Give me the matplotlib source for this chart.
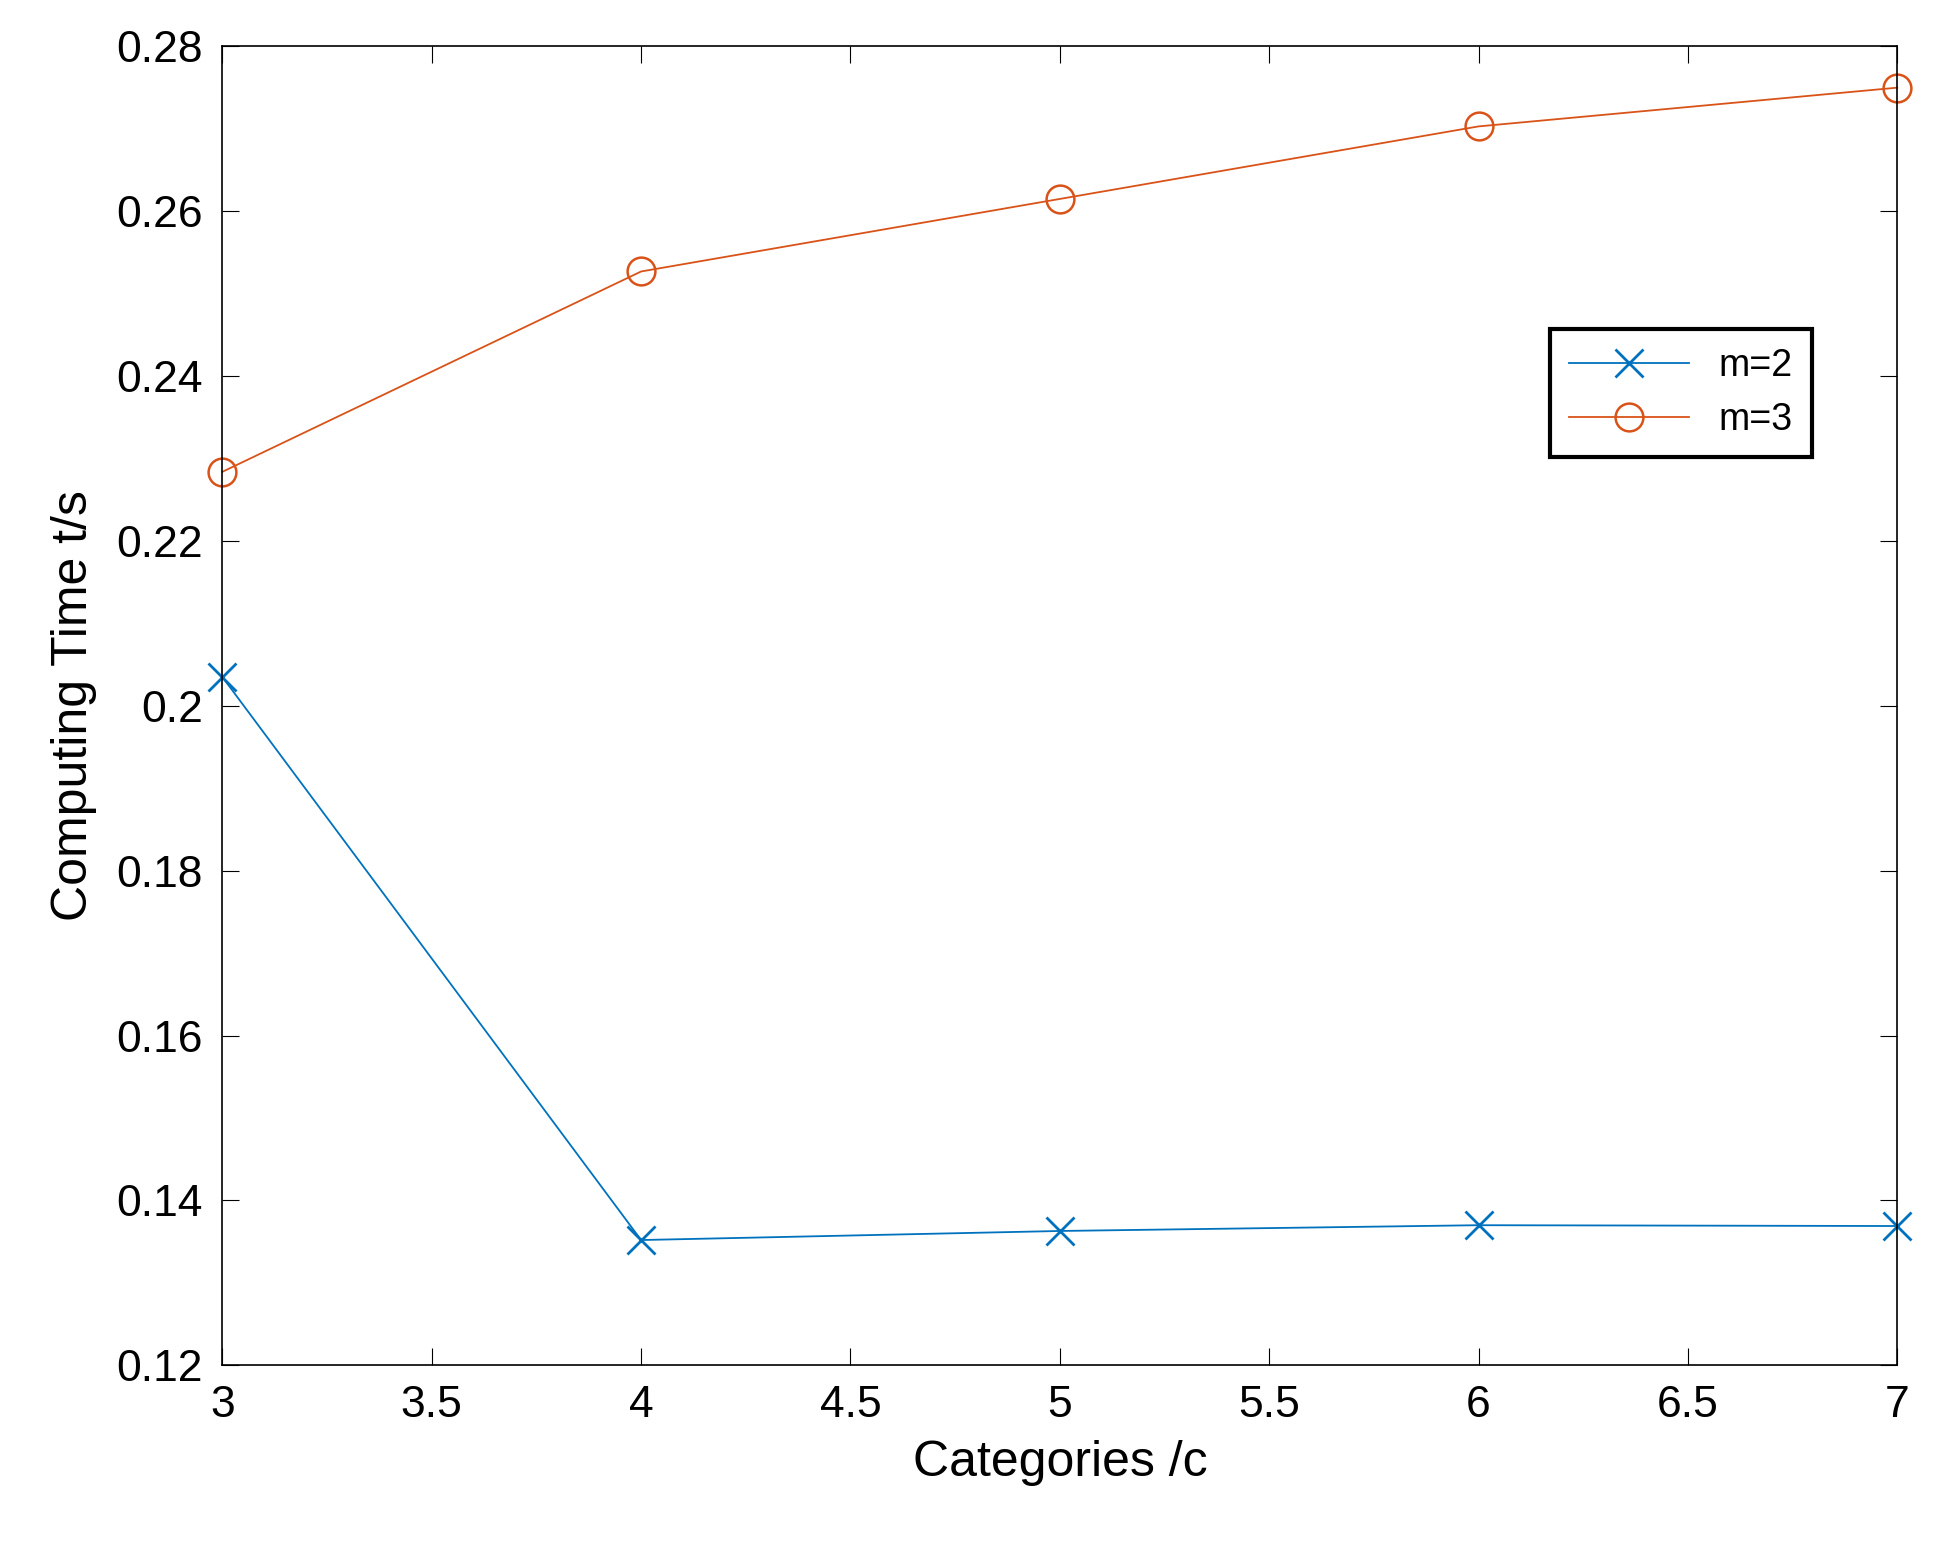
import matplotlib
matplotlib.use("Agg")
import matplotlib.pyplot as plt

c = [3, 4, 5, 6, 7]
m2 = [0.2035, 0.1352, 0.1363, 0.1370, 0.1369]
m3 = [0.2284, 0.2527, 0.2615, 0.2703, 0.2750]

plt.rcParams['font.family'] = ['Liberation Sans', 'DejaVu Sans']
fig = plt.figure(figsize=(19.34, 15.48), dpi=100)
ax = fig.add_axes([0.115, 0.118, 0.866, 0.852])
ax.plot(c, m2, color='#0072BD', marker='x', markersize=20, mew=2, lw=1.3, label='m=2', clip_on=False)
ax.plot(c, m3, color='#D95319', marker='o', markersize=20, mfc='none', mew=1.8, lw=1.3, label='m=3', clip_on=False)
ax.set_xlim(3, 7)
ax.set_ylim(0.12, 0.28)
ax.set_xticks([3, 3.5, 4, 4.5, 5, 5.5, 6, 6.5, 7])
ax.set_xticklabels(['3', '3.5', '4', '4.5', '5', '5.5', '6', '6.5', '7'])
ax.set_yticks([0.12, 0.14, 0.16, 0.18, 0.2, 0.22, 0.24, 0.26, 0.28])
ax.set_yticklabels(['0.12', '0.14', '0.16', '0.18', '0.2', '0.22', '0.24', '0.26', '0.28'])
ax.tick_params(labelsize=32, direction='in', length=12, top=True, right=True, pad=14)
ax.set_xlabel('Categories /c', fontsize=36, labelpad=10)
ax.set_ylabel('Computing Time t/s', fontsize=36, labelpad=14)
for s in ax.spines.values():
    s.set_linewidth(1.2)
leg = ax.legend(loc='upper right', bbox_to_anchor=(0.96, 0.80), fontsize=27, fancybox=False,
                edgecolor='black', framealpha=1, handlelength=3.2, borderpad=0.5)
leg.get_frame().set_linewidth(3)
fig.savefig('out.png', dpi=100)
